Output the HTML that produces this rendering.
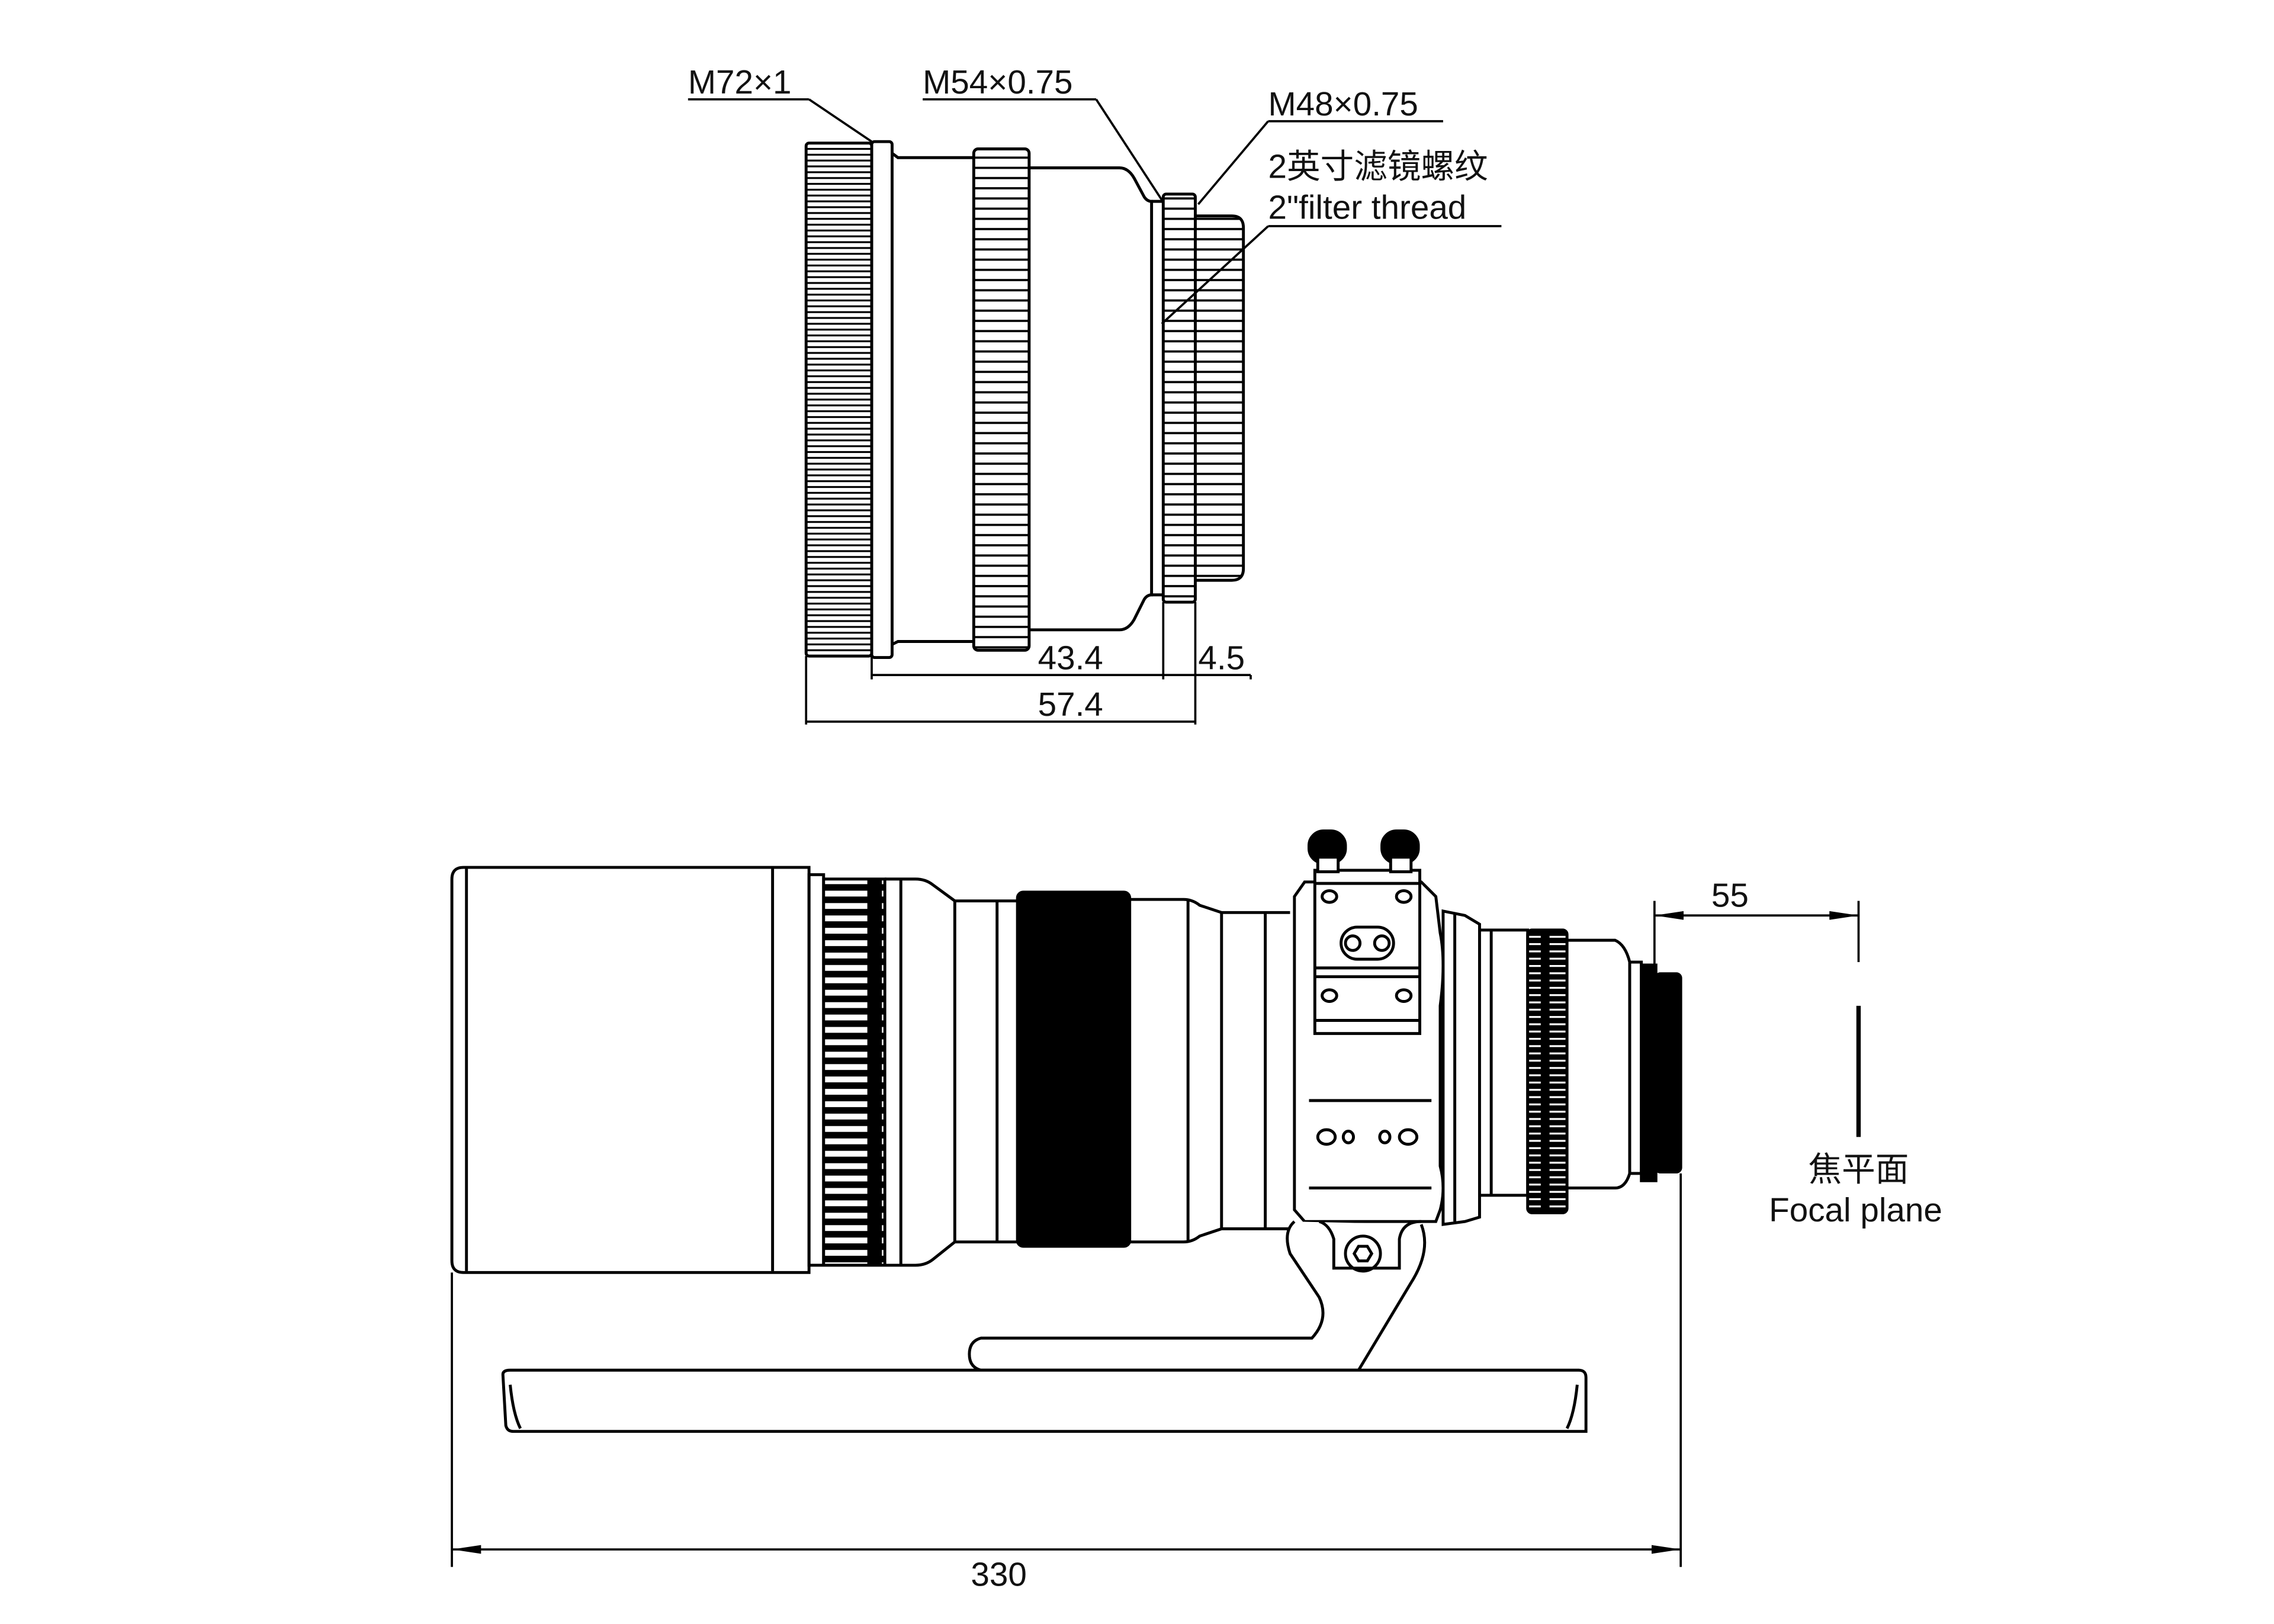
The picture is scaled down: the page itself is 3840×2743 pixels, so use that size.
<!DOCTYPE html>
<html><head><meta charset="utf-8"><style>
html,body{margin:0;padding:0;background:#fff}
svg{display:block}
text{font-family:"Liberation Sans","Noto Sans CJK SC",sans-serif;fill:#111}
</style></head><body>
<svg width="3840" height="2743" viewBox="0 0 1560 1114" xmlns="http://www.w3.org/2000/svg">
<defs>
<pattern id="hk" x="0" y="0" width="8" height="4" patternUnits="userSpaceOnUse"><rect width="8" height="4" fill="#fff"/><line x1="0" y1="2" x2="8" y2="2" stroke="#000" stroke-width="1.3"/></pattern>
<pattern id="fk" x="0" y="0" width="8" height="7" patternUnits="userSpaceOnUse"><rect width="8" height="7" fill="#fff"/><line x1="0" y1="3" x2="8" y2="3" stroke="#000" stroke-width="1.5"/></pattern>
<pattern id="bk" x="0" y="600" width="40" height="8.5" patternUnits="userSpaceOnUse"><rect width="40" height="8.5" fill="#000"/><rect x="5" y="2.5" width="30" height="4" fill="#fff"/></pattern>
<pattern id="sk" x="0" y="0" width="20" height="5" patternUnits="userSpaceOnUse"><rect width="20" height="5" fill="#000"/><rect x="3" y="2" width="14" height="1.3" fill="#fff"/></pattern>
<marker id="ar" viewBox="0 0 20 6" refX="20" refY="3" markerWidth="20" markerHeight="6" orient="auto-start-reverse" markerUnits="userSpaceOnUse"><path d="M0,0 L20,3 L0,6 Z" fill="#000"/></marker>
</defs>
<g fill="none" stroke="#000" stroke-width="2">
<!-- TOP DRAWING -->
<rect x="553" y="98" width="45" height="352" rx="2" fill="url(#hk)"/>
<rect x="598" y="97" width="14" height="354" rx="2"/>
<path d="M612,105 L616,108 L668,108 M612,442 L616,440 L668,440"/>
<rect x="668" y="102" width="38" height="344" rx="3" fill="url(#fk)"/>
<path d="M706,115 L768,115 Q774,115 778,122 L785,135 Q787,138 790,138 L790,408 Q787,408 785,411 L778,425 Q774,432 768,432 L706,432"/>
<line x1="790" y1="138" x2="800" y2="138"/><line x1="790" y1="408" x2="800" y2="408"/>
<rect x="798" y="133" width="22" height="280" rx="2" fill="url(#fk)"/>
<path d="M820,148 L845,148 Q853,148 853,156 L853,390 Q853,398 845,398 L820,398 Z" fill="url(#fk)"/>
</g>
<g stroke="#000" stroke-width="1.5" fill="none">
<line x1="472" y1="68" x2="555" y2="68"/><line x1="555" y1="68" x2="598" y2="97"/>
<line x1="633" y1="68" x2="752" y2="68"/><line x1="752" y1="68" x2="797" y2="137"/>
<line x1="870" y1="83" x2="990" y2="83"/><line x1="870" y1="83" x2="822" y2="140"/>
<line x1="870" y1="155" x2="1030" y2="155"/><line x1="870" y1="155" x2="797" y2="222"/>
<line x1="553" y1="450" x2="553" y2="497"/><line x1="598" y1="450" x2="598" y2="466"/>
<line x1="798" y1="413" x2="798" y2="466"/><line x1="820" y1="413" x2="820" y2="497"/>
<line x1="858" y1="463" x2="858" y2="466"/>
<line x1="598" y1="463" x2="858" y2="463"/><line x1="553" y1="495" x2="820" y2="495"/>
</g>
<g font-size="23">
<text x="472" y="64">M72×1</text>
<text x="633" y="64">M54×0.75</text>
<text x="870" y="79">M48×0.75</text>
<text x="870" y="122">2英寸滤镜螺纹</text>
<text x="870" y="150">2"filter thread</text>
<text x="712" y="459">43.4</text>
<text x="822" y="459">4.5</text>
<text x="712" y="491">57.4</text>
</g>

<!-- BOTTOM DRAWING -->
<g fill="none" stroke="#000" stroke-width="2">
<path d="M318,595 L555,595 L555,873 L318,873 Q310,873 310,865 L310,603 Q310,595 318,595 Z" fill="#fff"/>
<line x1="320" y1="596" x2="320" y2="872"/><line x1="530" y1="596" x2="530" y2="872"/>
<rect x="555" y="600" width="10" height="268"/>
<rect x="565" y="603" width="42" height="265" fill="url(#bk)"/>
<path d="M607,603 L628,603 Q635,603 640,607 L655,618 L698,618 M607,868 L628,868 Q635,868 640,864 L655,852 L698,852"/>
<line x1="618" y1="603" x2="618" y2="868"/><line x1="655" y1="618" x2="655" y2="852"/><line x1="684" y1="618" x2="684" y2="852"/>
<rect x="698" y="612" width="77" height="243" rx="4" fill="#000"/>
<path d="M775,617 L812,617 Q818,617 823,621 L838,626 L885,626 M775,852 L812,852 Q818,852 823,848 L838,843 L885,843"/>
<line x1="815" y1="617" x2="815" y2="852"/><line x1="838" y1="626" x2="838" y2="843"/><line x1="868" y1="626" x2="868" y2="843"/>
<!-- collar -->
<path d="M895,605 L975,605 L985,615 L988,640 Q992,660 988,690 L988,800 Q992,815 988,830 L985,838 L895,838 L888,830 L888,615 Z" fill="#fff"/>
<rect x="902" y="597" width="72" height="112" fill="#fff"/>
<line x1="902" y1="606" x2="974" y2="606"/><line x1="902" y1="664" x2="974" y2="664"/><line x1="902" y1="670" x2="974" y2="670"/><line x1="902" y1="700" x2="974" y2="700"/>
<path d="M898,755 L982,755 M898,815 L982,815"/>
<rect x="920" y="636" width="36" height="22" rx="11"/>
<circle cx="928" cy="647" r="5"/><circle cx="948" cy="647" r="5"/>
<ellipse cx="912" cy="615" rx="5" ry="4"/><ellipse cx="963" cy="615" rx="5" ry="4"/>
<ellipse cx="912" cy="683" rx="5" ry="4"/><ellipse cx="963" cy="683" rx="5" ry="4"/>
<ellipse cx="910" cy="780" rx="6" ry="5"/><ellipse cx="925" cy="780" rx="3.5" ry="4"/><ellipse cx="950" cy="780" rx="3.5" ry="4"/><ellipse cx="966" cy="780" rx="6" ry="5"/>
<!-- knobs -->
<rect x="898" y="570" width="25" height="22" rx="10" fill="#000"/><rect x="948" y="570" width="25" height="22" rx="10" fill="#000"/>
<rect x="904" y="588" width="14" height="10" fill="#fff"/><rect x="954" y="588" width="14" height="10" fill="#fff"/>
<!-- rear -->
<path d="M990,625 L1005,628 L1015,634 L1015,835 L1005,838 L990,840 Z" fill="#fff"/>
<line x1="998" y1="626" x2="998" y2="838"/>
<rect x="1015" y="638" width="33" height="182" fill="#fff"/>
<line x1="1023" y1="638" x2="1023" y2="820"/>
<rect x="1048" y="638" width="27" height="194" rx="3" fill="url(#sk)"/>
<path d="M1075,645 L1108,645 Q1115,648 1118,660 L1118,805 Q1115,815 1108,815 L1075,815 Z" fill="#fff"/>
<rect x="1118" y="660" width="8" height="145" fill="#fff"/>
<rect x="1126" y="662" width="10" height="148" fill="#000"/>
<rect x="1136" y="668" width="17" height="136" rx="3" fill="#000"/>
<!-- foot -->
<path d="M888,838 Q880,845 885,860 L905,890 Q912,905 900,918 L673,918 Q665,920 665,929 Q665,938 673,940 L932,940 L968,880 Q982,858 975,840" fill="#fff"/>
<path d="M905,838 Q912,840 915,850 L915,870 L960,870 L960,850 Q962,838 975,838"/>
<circle cx="935" cy="860" r="12"/><path d="M929,860 L932,855 L938,855 L941,860 L938,865 L932,865 Z"/>
<path d="M345,943 Q345,940 350,940 L1083,940 Q1088,940 1088,945 L1088,982 L352,982 Q348,982 347,978 Z" fill="#fff"/>
<path d="M350,950 Q352,970 357,980 M1082,950 Q1080,970 1075,980"/>
</g>
<!-- white stripes for hood knurl edges -->
<g stroke="#000" stroke-width="1.5" fill="none">
<line x1="310" y1="873" x2="310" y2="1075"/><line x1="1153" y1="805" x2="1153" y2="1075"/>
<line x1="310" y1="1063" x2="1153" y2="1063" marker-start="url(#ar)" marker-end="url(#ar)"/>
<line x1="1135" y1="618" x2="1135" y2="662"/><line x1="1275" y1="618" x2="1275" y2="660"/>
<line x1="1135" y1="628" x2="1275" y2="628" marker-start="url(#ar)" marker-end="url(#ar)"/>
</g>
<line x1="1275" y1="690" x2="1275" y2="780" stroke="#000" stroke-width="3"/>
<g font-size="23">
<text x="666" y="1088">330</text>
<text x="1174" y="622">55</text>
<text x="1275" y="810" text-anchor="middle">焦平面</text>
<text x="1273" y="838" text-anchor="middle">Focal plane</text>
</g>
</svg>
</body></html>
